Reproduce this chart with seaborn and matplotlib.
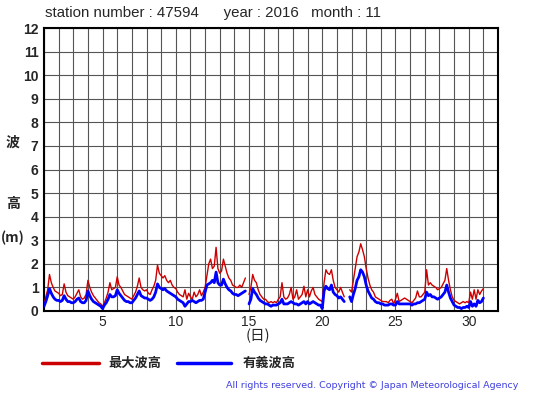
import numpy as np
import pandas as pd
import matplotlib
matplotlib.use("Agg")
import matplotlib.pyplot as plt
import seaborn as sns

nan = np.nan

# 3-hourly wave heights (m), 8 values per day, days 1..30, plus 31st 00h
max_wave = [
    0.3, 0.6, 0.9, 1.55, 1.2, 1.0, 0.85, 0.8,
    0.75, 0.65, 0.7, 1.15, 0.8, 0.65, 0.6, 0.55,
    0.5, 0.6, 0.75, 0.9, 0.6, 0.5, 0.55, 0.7,
    1.3, 1.0, 0.8, 0.65, 0.55, 0.45, 0.35, 0.3,
    0.2, 0.35, 0.55, 0.8, 1.2, 0.9, 0.95, 1.0,
    1.45, 1.1, 1.0, 0.85, 0.7, 0.65, 0.6, 0.55,
    0.5, 0.65, 0.8, 1.05, 1.4, 1.0, 0.9, 0.85,
    0.9, 0.75, 0.7, 0.9, 1.05, 1.3, 1.95, 1.6,
    1.5, 1.4, 1.5, 1.3, 1.2, 1.3, 1.1, 1.0,
    0.95, 0.8, 0.7, 0.65, 0.6, 0.9, 0.5, 0.75,
    0.6, 0.5, 0.8, 0.6, 0.7, 0.9, 0.65, 0.8,
    1.0, 1.5, 2.0, 2.2, 1.8, 1.9, 2.7, 1.8,
    1.6, 1.7, 2.2, 1.9, 1.6, 1.4, 1.3, 1.1,
    1.05, 1.0, 1.0, 1.1, 1.0, 1.2, 1.4, nan,
    0.7, 1.0, 1.55, 1.3, 1.2, 0.9, 0.7, 0.6,
    0.5, 0.5, 0.4, 0.35, 0.4, 0.35, 0.4, 0.35,
    0.5, 0.6, 1.2, 0.6, 0.5, 0.55, 0.7, 1.0,
    0.5, 0.6, 0.9, 0.5, 0.6, 0.7, 1.05, 0.6,
    0.9, 0.6, 0.85, 1.0, 0.7, 0.6, 0.5, 0.45,
    0.4, 1.2, 1.75, 1.6, 1.55, 1.75, 1.3, 1.0,
    0.9, 0.8, 1.0, 0.8, 0.6, nan, nan, 0.9,
    0.8, 1.3, 1.8, 2.3, 2.5, 2.85, 2.6, 2.3,
    1.8, 1.4, 1.1, 0.9, 0.8, 0.6, 0.55, 0.5,
    0.45, 0.4, 0.4, 0.4, 0.35, 0.45, 0.5, 0.3,
    0.5, 0.75, 0.4, 0.45, 0.5, 0.55, 0.5, 0.45,
    0.4, 0.35, 0.45, 0.55, 0.85, 0.6, 0.6, 0.7,
    0.8, 1.75, 1.1, 1.2, 1.1, 1.05, 1.0, 0.9,
    0.95, 1.0, 1.15, 1.3, 1.8, 1.3, 0.9, 0.6,
    0.45, 0.4, 0.35, 0.3, 0.35, 0.4, 0.35, 0.4,
    0.35, 0.8, 0.5, 0.9, 0.5, 0.9, 0.7, 0.85,
    0.95,
]

sig_wave = [
    0.2, 0.4, 0.65, 0.95, 0.75, 0.6, 0.5, 0.45,
    0.45, 0.4, 0.45, 0.65, 0.5, 0.4, 0.4, 0.35,
    0.35, 0.4, 0.5, 0.55, 0.4, 0.35, 0.35, 0.45,
    0.85, 0.65, 0.5, 0.4, 0.35, 0.3, 0.25, 0.2,
    0.1, 0.25, 0.35, 0.5, 0.7, 0.6, 0.6, 0.65,
    0.9, 0.75, 0.65, 0.55, 0.45, 0.4, 0.4, 0.35,
    0.35, 0.45, 0.55, 0.7, 0.85, 0.65, 0.6, 0.55,
    0.55, 0.5, 0.45, 0.5, 0.6, 0.8, 1.15, 1.0,
    0.95, 0.9, 0.95, 0.85, 0.8, 0.75, 0.7, 0.65,
    0.6, 0.5, 0.45, 0.4, 0.35, 0.2, 0.3, 0.4,
    0.4, 0.45, 0.4, 0.35, 0.4, 0.45, 0.45, 0.5,
    0.8, 1.1, 1.15, 1.2, 1.3, 1.2, 1.65, 1.2,
    1.1, 1.1, 1.35, 1.15, 1.0, 0.9, 0.85, 0.75,
    0.7, 0.7, 0.65, 0.7, 0.75, 0.8, 0.85, nan,
    0.3, 0.5, 0.95, 0.8, 0.7, 0.55, 0.45, 0.4,
    0.35, 0.3, 0.3, 0.25, 0.2, 0.25, 0.25, 0.25,
    0.3, 0.35, 0.5, 0.3, 0.3, 0.3, 0.35, 0.4,
    0.35, 0.3, 0.3, 0.25, 0.3, 0.35, 0.4, 0.3,
    0.4, 0.3, 0.35, 0.4, 0.35, 0.3, 0.25, 0.25,
    0.1, 0.85, 1.05, 0.95, 0.9, 1.1, 0.8, 0.7,
    0.65, 0.55, 0.6, 0.5, 0.4, nan, nan, 0.6,
    0.4, 0.7, 0.95, 1.3, 1.45, 1.75, 1.65, 1.45,
    1.1, 0.85, 0.7, 0.55, 0.5, 0.4, 0.35, 0.35,
    0.3, 0.3, 0.25, 0.25, 0.25, 0.3, 0.3, 0.25,
    0.25, 0.4, 0.3, 0.3, 0.3, 0.3, 0.3, 0.3,
    0.3, 0.25, 0.3, 0.3, 0.35, 0.35, 0.4, 0.45,
    0.5, 0.8, 0.65, 0.7, 0.6, 0.6, 0.55, 0.5,
    0.55, 0.6, 0.7, 0.8, 1.1, 0.8, 0.55, 0.4,
    0.25, 0.2, 0.15, 0.15, 0.1, 0.15, 0.15, 0.2,
    0.15, 0.4, 0.2, 0.3, 0.2, 0.45, 0.35, 0.4,
    0.55,
]

day = 1 + np.arange(len(max_wave)) / 8.0
xtick_days = [5, 10, 15, 20, 25, 30]

sns.set_style("white")
cjk = ["Noto Sans CJK JP", "DejaVu Sans"]


def segments(vals):
    df = pd.DataFrame({"day": day, "h": vals})
    df["seg"] = df["h"].isna().cumsum()
    return df.dropna()


fig = plt.figure(figsize=(5.55, 3.95), dpi=100)
ax = fig.add_axes([44 / 555, 84 / 395, 454 / 555, 283 / 395])

sns.lineplot(data=segments(max_wave), x="day", y="h", units="seg", estimator=None,
             color="#cc0000", linewidth=1.0, ax=ax, zorder=3)
sns.lineplot(data=segments(sig_wave), x="day", y="h", units="seg", estimator=None,
             color="#0000ff", linewidth=2.0, ax=ax, zorder=4)

ax.set_xlim(1, 32)
ax.set_ylim(0, 12)
ax.set_xticks(xtick_days)
ax.set_xticks(np.arange(1, 33), minor=True)
ax.set_yticks(np.arange(0, 13))
ax.grid(which="both", color="#555555", linewidth=0.8)
ax.set_axisbelow(True)
ax.tick_params(which="both", length=0)
ax.tick_params(axis="y", pad=4)
ax.tick_params(axis="x", pad=3)
for lab in ax.get_yticklabels():
    lab.set_fontweight("bold")
    lab.set_fontsize(10)
    lab.set_family("Liberation Sans")
for lab in ax.get_xticklabels():
    lab.set_fontsize(10)
    lab.set_family("Liberation Sans")
for s in ax.spines.values():
    s.set_color("black")
    s.set_linewidth(1.5)
ax.set_xlabel("")
ax.set_ylabel("")

W, H = 555, 395


def ftext(x, y, s, **kw):
    fig.text(x / W, 1 - y / H, s, **kw)


ftext(45, 13, "station number : 47594      year : 2016   month : 11",
      fontsize=10.8, family="Liberation Sans", va="center", ha="left")
ftext(13, 143, "波", family=cjk, fontsize=10, fontweight="bold", ha="center", va="center")
ftext(13, 204, "高", family=cjk, fontsize=10, fontweight="bold", ha="center", va="center")
ftext(13, 238, "(m)", family=cjk, fontsize=10, fontweight="bold", ha="center", va="center")
ftext(258, 336, "(日)", family=cjk, fontsize=10.5, ha="center", va="center")

fig.add_artist(plt.Line2D([42 / W, 99 / W], [1 - 363 / H] * 2, color="#cc0000", linewidth=2.5))
ftext(108, 363, "最大波高", family=cjk, fontsize=9.5, fontweight="bold", va="center")
fig.add_artist(plt.Line2D([177 / W, 231 / W], [1 - 363 / H] * 2, color="#0000ff", linewidth=2.5))
ftext(243, 363, "有義波高", family=cjk, fontsize=9.5, fontweight="bold", va="center")

ftext(518, 385, "All rights reserved. Copyright © Japan Meteorological Agency",
      fontsize=6.8, family="DejaVu Sans", color="#4040e0", ha="right", va="center")

fig.savefig("out.png", dpi=100)
